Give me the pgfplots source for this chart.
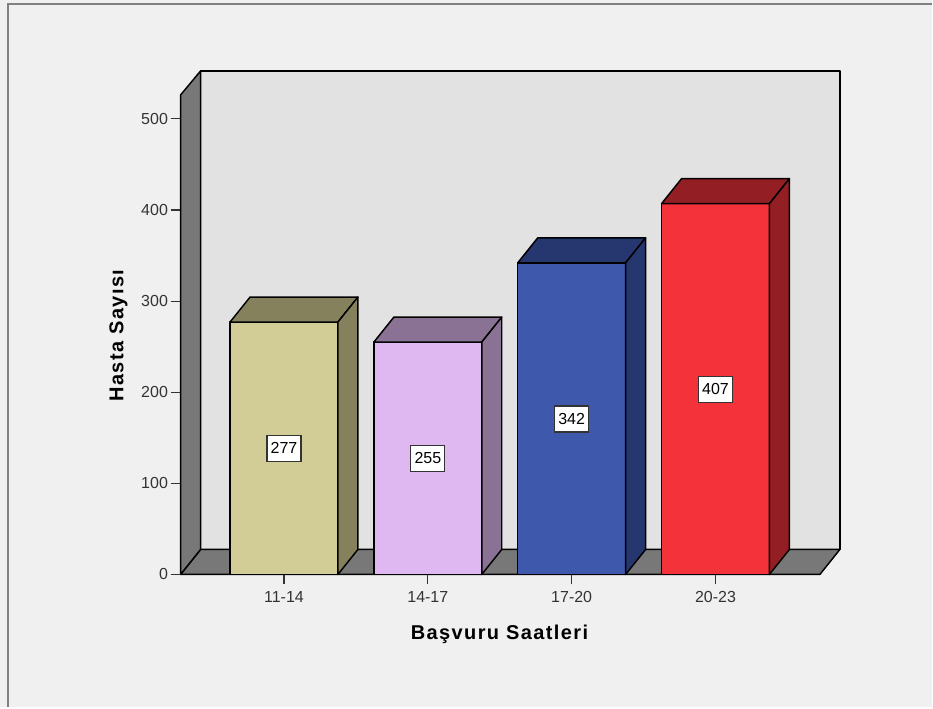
\documentclass[border=0pt]{standalone}
\usepackage{fontspec}
\setmainfont{Liberation Sans}
\usepackage{pgfplots}
\pgfplotsset{compat=1.18}
\definecolor{pagebg}{HTML}{F0F0F0}
\definecolor{framecol}{HTML}{808080}
\definecolor{wallback}{HTML}{E2E2E2}
\definecolor{wallside}{HTML}{787878}
\definecolor{inka}{HTML}{333333}
\definecolor{khakiF}{RGB}{210,205,150}
\definecolor{khakiD}{RGB}{133,129,92}
\definecolor{lilacF}{RGB}{223,184,241}
\definecolor{lilacD}{RGB}{137,114,148}
\definecolor{blueF}{RGB}{62,88,172}
\definecolor{blueD}{RGB}{38,54,110}
\definecolor{redF}{RGB}{243,50,58}
\definecolor{redD}{RGB}{147,30,35}
\pgfplotsset{
  face/.style={draw=black,line width=1.1pt,line join=round,fill=#1,forget plot},
}
\tikzset{
  valuebox/.style={draw=inka,line width=0.9pt,fill=white,inner sep=0pt,
    minimum width=25.5pt,minimum height=19.5pt,font=\fontsize{12}{12}\selectfont,text=black},
}
\begin{document}
\begin{tikzpicture}
\begin{axis}[
  scale only axis,
  width=480pt, height=360pt,
  xmin=-0.71875, xmax=3.7257,
  ymin=0, ymax=526.3,
  clip=false,
  axis on top,
  axis x line*=bottom,
  axis y line*=left,
  axis line style={black,line width=1.1pt,-},
  tick align=outside,
  major tick length=7.5pt,
  tick style={inka,line width=0.9pt},
  xtick={0,1,2,3},
  xticklabels={11-14,14-17,17-20,20-23},
  ytick={0,100,200,300,400,500},
  /pgf/number format/assume math mode=true,
  tick label style={font=\fontsize{12}{12}\selectfont,text=inka},
  y tick label style={xshift=1.5pt},
  x tick label style={yshift=-2pt},
  xlabel={Başvuru Saatleri},
  ylabel={Hasta Sayısı},
  every axis x label/.style={at={(axis cs:1.498,-66)},anchor=center,
    font=\fontsize{15}{15}\selectfont\bfseries\addfontfeatures{LetterSpace=7},text=black},
  every axis y label/.style={at={(axis cs:-1.15,262)},anchor=center,rotate=90,
    font=\fontsize{15}{15}\selectfont\bfseries\addfontfeatures{LetterSpace=7},text=black},
]
% panel background and its frame
\addplot[fill=pagebg,draw=none,forget plot] coordinates
  {(-1.9743,-145.9) (4.5049,-145.9) (4.5049,630.5) (-1.9743,630.5)} --cycle;
\addplot[draw=framecol,line width=1.5pt,forget plot] coordinates
  {(-1.9165,-145.9) (-1.9165,626.5) (4.5049,626.5)};

% chart box: back wall, floor, left wall
\addplot[face=wallback] coordinates
  {(-0.57986,27.41) (3.86458,27.41) (3.86458,552.63) (-0.57986,552.63)} --cycle;
\addplot[face=wallside] coordinates
  {(-0.71875,0) (3.7257,0) (3.86458,27.41) (-0.57986,27.41)} --cycle;
\addplot[face=wallside] coordinates
  {(-0.71875,0) (-0.57986,27.41) (-0.57986,552.63) (-0.71875,526.3)} --cycle;

% 11-14: 277
\addplot[face=khakiF] coordinates {(-0.375,0) (0.375,0) (0.375,277) (-0.375,277)} --cycle;
\addplot[face=khakiD] coordinates {(-0.375,277) (0.375,277) (0.5139,304.41) (-0.2361,304.41)} --cycle;
\addplot[face=khakiD] coordinates {(0.375,0) (0.5139,27.41) (0.5139,304.41) (0.375,277)} --cycle;
% 14-17: 255
\addplot[face=lilacF] coordinates {(0.625,0) (1.375,0) (1.375,255) (0.625,255)} --cycle;
\addplot[face=lilacD] coordinates {(0.625,255) (1.375,255) (1.5139,282.41) (0.7639,282.41)} --cycle;
\addplot[face=lilacD] coordinates {(1.375,0) (1.5139,27.41) (1.5139,282.41) (1.375,255)} --cycle;
% 17-20: 342
\addplot[face=blueF] coordinates {(1.625,0) (2.375,0) (2.375,342) (1.625,342)} --cycle;
\addplot[face=blueD] coordinates {(1.625,342) (2.375,342) (2.5139,369.41) (1.7639,369.41)} --cycle;
\addplot[face=blueD] coordinates {(2.375,0) (2.5139,27.41) (2.5139,369.41) (2.375,342)} --cycle;
% 20-23: 407
\addplot[face=redF] coordinates {(2.625,0) (3.375,0) (3.375,407) (2.625,407)} --cycle;
\addplot[face=redD] coordinates {(2.625,407) (3.375,407) (3.5139,434.41) (2.7639,434.41)} --cycle;
\addplot[face=redD] coordinates {(3.375,0) (3.5139,27.41) (3.5139,434.41) (3.375,407)} --cycle;

% value labels at half bar height
\node[valuebox] at (axis cs:0,138.5) {277};
\node[valuebox] at (axis cs:1,127.5) {255};
\node[valuebox] at (axis cs:2,170.5) {342};
\node[valuebox] at (axis cs:3,203) {407};
\end{axis}
\end{tikzpicture}
\end{document}
